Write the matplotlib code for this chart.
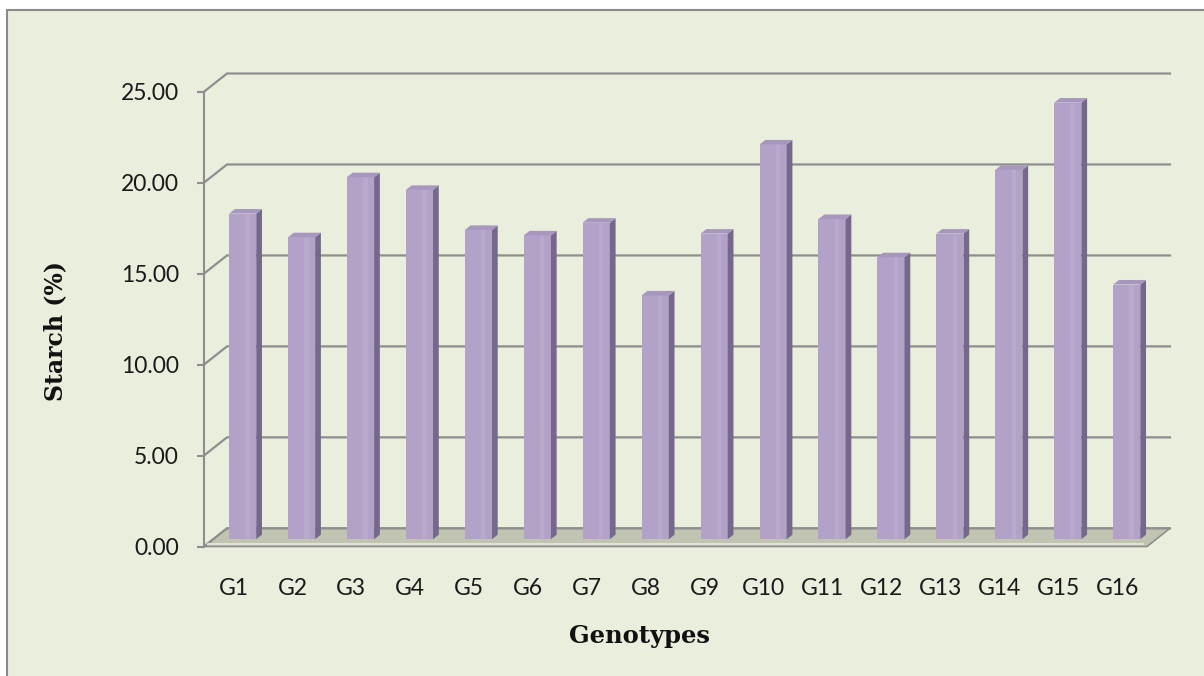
import matplotlib
matplotlib.use("Agg")
import matplotlib.pyplot as plt
from matplotlib.patches import Rectangle, Polygon

# ---- data -------------------------------------------------------------
genotypes = ["G1", "G2", "G3", "G4", "G5", "G6", "G7", "G8",
             "G9", "G10", "G11", "G12", "G13", "G14", "G15", "G16"]
starch = [17.9, 16.6, 19.9, 19.2, 17.0, 16.7, 17.4, 13.4,
          16.8, 21.7, 17.6, 15.5, 16.8, 20.3, 24.0, 14.0]
y_ticks = [0, 5, 10, 15, 20, 25]
y_tick_labels = ["0.00", "5.00", "10.00", "15.00", "20.00", "25.00"]

# ---- style ------------------------------------------------------------
BG = "#EAEEDD"
GRID = "#8E8E8E"
FRONT = "#B3A2C8"
SIDE = "#76688A"
TOP = "#A797BF"
FLOOR = "#C0C4B0"
SANS = ["Lato", "DejaVu Sans"]
SERIF = ["DejaVu Serif"]

W, H = 1204, 676
fig = plt.figure(figsize=(W / 100, H / 100), dpi=100, facecolor="white")

# outer chart frame
fig.add_artist(Rectangle((7 / W, -0.05), 1.1, 1 - 10 / H + 0.05,
                         transform=fig.transFigure, facecolor=BG,
                         edgecolor="#8A8A8A", linewidth=1.5, zorder=-1))

# depth of the pseudo 3-D box (data units)
DX, DY = 0.39, 1.0
n = len(starch)
x_lo, x_hi = -0.5, n - 0.5
y_top = y_ticks[-1]

# pixel frame of the front plane
px_left, px_right = 204, 1147
px_zero, px_top = 546.5, 91.7
ux = (px_right - px_left) / (x_hi - x_lo)
uy = (px_zero - px_top) / y_top
ax_w = (x_hi + DX - x_lo) * ux
ax_h = (y_top + DY) * uy
ax = fig.add_axes([px_left / W, 1 - px_zero / H, ax_w / W, ax_h / H])
ax.set_xlim(x_lo, x_hi + DX)
ax.set_ylim(0, y_top + DY)
ax.patch.set_visible(False)

for s in ("top", "right", "bottom"):
    ax.spines[s].set_visible(False)
ax.spines["left"].set_bounds(0, y_top)
ax.spines["left"].set_color(GRID)
ax.spines["left"].set_linewidth(1.5)

ax.set_yticks(y_ticks)
ax.set_yticklabels(y_tick_labels, fontfamily=SANS)
ax.tick_params(axis="y", direction="out", length=5, width=1.5, color=GRID,
               labelsize=16.5, pad=13, labelcolor="#1a1a1a")
ax.set_xticks(range(n))
ax.set_xticklabels(genotypes, fontfamily=SANS)
ax.tick_params(axis="x", length=0, labelsize=16.5, pad=23, labelcolor="#1a1a1a")

# floor slab
ax.add_patch(Polygon([(x_lo, 0), (x_hi, 0), (x_hi + DX, DY), (x_lo + DX, DY)],
                     closed=True, facecolor=FLOOR, edgecolor=GRID,
                     linewidth=1.2, zorder=1, clip_on=False))
ax.plot([x_lo + 0.05, x_hi - 0.05], [0.12, 0.12], color="#E2E4D8", lw=1.4,
        zorder=1.5, solid_capstyle="butt", clip_on=False)

# wall gridlines: side-wall diagonal + back-wall horizontal
for v in y_ticks:
    ax.plot([x_lo, x_lo + DX, x_hi + DX], [v, v + DY, v + DY],
            color=GRID, lw=1.6, zorder=1.2, solid_joinstyle="miter",
            clip_on=False)

# bars placed at mid depth
f0, d = 0.4, 0.25
bw = 0.46
xs = [i + DX * f0 for i in range(n)]
ax.bar(xs, starch, width=bw, bottom=DY * f0, color=FRONT,
       edgecolor="none", zorder=3)
# soft highlight band on the front faces
ax.bar([x + bw * 0.18 for x in xs], starch, width=bw * 0.16, bottom=DY * f0,
       color="#BFB0D2", edgecolor="none", zorder=3.1, alpha=0.55)
for x, v in zip(xs, starch):
    xl, xr = x - bw / 2, x + bw / 2
    yb, yt = DY * f0, v + DY * f0
    ddx, ddy = DX * d, DY * d
    ax.add_patch(Polygon([(xr, yb), (xr + ddx, yb + ddy), (xr + ddx, yt + ddy), (xr, yt)],
                         closed=True, facecolor=SIDE, edgecolor="none", zorder=3))
    ax.add_patch(Polygon([(xl, yt), (xr, yt), (xr + ddx, yt + ddy), (xl + ddx, yt + ddy)],
                         closed=True, facecolor=TOP, edgecolor="none", zorder=3.2))

# axis titles
fig.text(55 / W, 1 - 331 / H, "Starch (%)", rotation=90, ha="center",
         va="center", fontsize=17, fontweight="bold", family=SERIF,
         color="#111111")
fig.text(640 / W, 1 - 636 / H, "Genotypes", ha="center", va="center",
         fontsize=17.5, fontweight="bold", family=SERIF, color="#111111")

fig.savefig("out.png", dpi=100, facecolor="white")
